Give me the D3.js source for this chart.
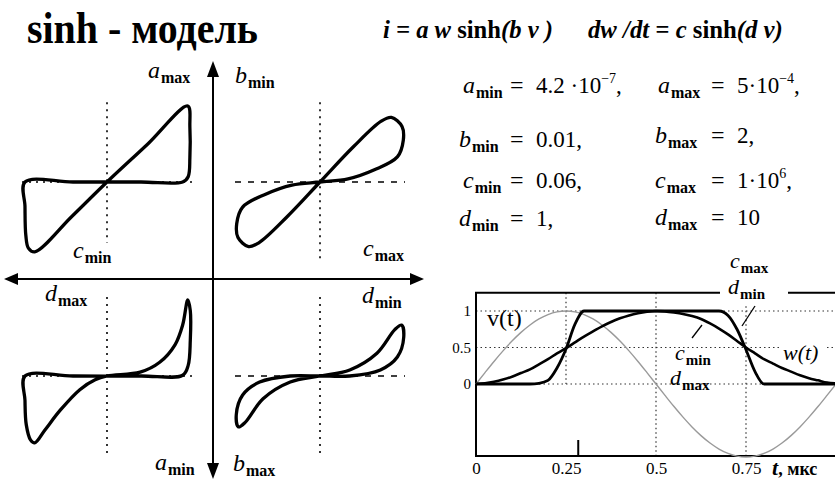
<!DOCTYPE html>
<html>
<head>
<meta charset="utf-8">
<script src="https://cdn.jsdelivr.net/npm/d3@7"></script>
<style>
  body { margin: 0; background: #fff; }
  svg { display: block; }
  text { fill: #000; }
</style>
</head>
<body>
<svg id="chart" width="835" height="480"></svg>
<script>
const SERIF = "'Liberation Serif', 'Times New Roman', Times, serif";
// ---------- text content ----------
const titleText = "sinh - модель";
const paramLetters = ["a", "b", "c", "d"];
const paramMinValue = ["4.2 ·10", "0.01,", "0.06,", "1,"];
const paramMinExp = ["−7", "", "", ""];
const paramMinTail = [",", "", "", ""];
const paramMaxValue = ["5·10", "2,", "1·10", "10"];
const paramMaxExp = ["−4", "", "6", ""];
const paramMaxTail = [",", "", ",", ""];

// ---------- hysteresis loops (v, i), normalised to [-1, 1] ----------
const loopAmaxBmin = [ // upper-left: a_max, c_min
  [-0.85,-0.92],[-0.42,-0.46],[0,0],[0.48,0.5],[0.95,1.0],[0.975,0.72],[0.975,0.32],
  [0.955,0.07],[0.89,0.0],[0.4,0],[-0.4,0],[-0.965,0],[-0.965,-0.32],[-0.955,-0.7],[-0.925,-0.87]
];
const loopBminCmax = [ // upper-right: b_min, c_max
  [0,0],[0.39,0.46],[0.72,0.8],[0.84,0.85],[0.965,0.73],[0.98,0.55],[0.91,0.33],[0.64,0.16],[0.33,0.04],
  [0,0],[-0.33,-0.04],[-0.64,-0.16],[-0.91,-0.33],[-0.98,-0.55],[-0.965,-0.73],[-0.84,-0.85],[-0.72,-0.8],[-0.39,-0.46]
];
const loopAminDmax = [ // lower-left: a_min, d_max
  [0,0],[0.39,0.05],[0.62,0.18],[0.8,0.41],[0.89,0.67],[0.95,1.0],[0.98,0.86],[0.98,0.47],
  [0.955,0.14],[0.89,0.01],[0.4,0],[-0.4,0],[-0.965,0],[-0.965,-0.32],[-0.95,-0.64],[-0.9,-0.84],
  [-0.85,-0.88],[-0.73,-0.71],[-0.55,-0.45],[-0.32,-0.18],[-0.14,-0.05]
];
const loopBmaxDmin = [ // lower-right: b_max, d_min
  [0,0],[0.35,0.08],[0.67,0.3],[0.88,0.61],[0.96,0.67],[0.985,0.51],[0.91,0.25],[0.71,0.08],[0.35,0.0],
  [0,0],[-0.35,0.0],[-0.71,-0.08],[-0.91,-0.25],[-0.985,-0.51],[-0.96,-0.67],[-0.88,-0.61],[-0.67,-0.3],[-0.35,-0.08]
];

// ---------- time responses ----------
const tValues = [0,0.025,0.05,0.075,0.1,0.125,0.15,0.175,0.2,0.225,0.25,0.275,0.3,0.325,0.35,0.375,0.4,0.425,0.45,0.475,
  0.5,0.525,0.55,0.575,0.6,0.625,0.65,0.675,0.7,0.725,0.75,0.775,0.8,0.825,0.85,0.875,0.9,0.925,0.95,0.975,1];
const vValues = [0,0.156,0.309,0.454,0.588,0.707,0.809,0.891,0.951,0.988,1,0.988,0.951,0.891,0.809,0.707,0.588,0.454,0.309,0.156,
  0,-0.156,-0.309,-0.454,-0.588,-0.707,-0.809,-0.891,-0.951,-0.988,-1,-0.988,-0.951,-0.891,-0.809,-0.707,-0.588,-0.454,-0.309,-0.156,0];
const wSmooth = [0,0.01,0.03,0.06,0.1,0.15,0.2,0.27,0.34,0.42,0.49,0.57,0.65,0.72,0.79,0.85,0.9,0.94,0.97,0.99,
  1,0.995,0.98,0.96,0.93,0.89,0.83,0.76,0.68,0.59,0.5,0.42,0.34,0.28,0.22,0.17,0.12,0.08,0.05,0.02,0.01];
const wSharp = [0,0,0,0,0,0,0,0.01,0.05,0.22,0.48,0.82,1,1,1,1,1,1,1,1,
  1,1,1,1,1,1,1,1,0.94,0.75,0.47,0.17,0,0,0,0,0,0,0,0,0];
const yTicks = [0, 0.5, 1];
const xTicks = [0, 0.25, 0.5, 0.75];
const tMarker = 0.284;

// ---------- drawing ----------
const svg = d3.select("#chart");
svg.append("rect").attr("width", 835).attr("height", 480).attr("fill", "#fff");
function txt() { return svg.append("text").attr("font-family", SERIF); }

// squeeze a text element horizontally to a target width
function fitText(sel, x, y, width) {
  const w = sel.node().getComputedTextLength();
  sel.attr("x", 0).attr("y", 0)
     .attr("transform", `translate(${x},${y}) scale(${width / w},1)`);
}

// title
const title = txt().attr("font-size", 45).attr("font-weight", "bold").text(titleText);
fitText(title, 27, 43, 231);

// model equations
const eq1 = txt().attr("font-size", 25).attr("font-weight", "bold");
eq1.append("tspan").attr("font-style", "italic").text("i = a w ");
eq1.append("tspan").text("sinh");
eq1.append("tspan").attr("font-style", "italic").text("(b v )");
fitText(eq1, 383, 38, 170);
const eq2 = txt().attr("font-size", 25).attr("font-weight", "bold");
eq2.append("tspan").attr("font-style", "italic").text("dw /dt = c ");
eq2.append("tspan").text("sinh");
eq2.append("tspan").attr("font-style", "italic").text("(d v)");
fitText(eq2, 588, 38, 195);

// letter with bold subscript
function mathLabel(x, y, letter, sub, size = 24, subSize = 16) {
  const t = txt().attr("x", x).attr("y", y);
  t.append("tspan").attr("font-style", "italic").attr("font-size", size).text(letter);
  t.append("tspan").attr("font-weight", "bold").attr("font-size", subSize).attr("dy", 5).attr("dx", 1).text(sub);
  return t;
}

// parameter table
const rowY1 = [93, 147, 188, 226];
const rowY2 = [93, 143, 188, 225];
function paramValue(x, y, val, exp, tail) {
  const t = txt().attr("x", x).attr("y", y).attr("font-size", 23);
  t.append("tspan").text(val);
  if (exp) t.append("tspan").attr("font-size", 14).attr("dy", -10).text(exp);
  if (tail) t.append("tspan").attr("dy", exp ? 10 : 0).text(tail);
}
paramLetters.forEach((L, k) => {
  mathLabel(k === 1 || k === 3 ? 459 : 463, rowY1[k], L, "min");
  txt().attr("x", 510).attr("y", rowY1[k]).attr("font-size", 24).text("=");
  paramValue(536, rowY1[k], paramMinValue[k], paramMinExp[k], paramMinTail[k]);
  mathLabel(k === 0 ? 658 : 655, rowY2[k], L, "max");
  txt().attr("x", 711).attr("y", rowY2[k]).attr("font-size", 24).text("=");
  paramValue(737, rowY2[k], paramMaxValue[k], paramMaxExp[k], paramMaxTail[k]);
});

// ---------- four hysteresis quadrants ----------
const quadrants = [
  { cx: 107, cy: 182, loop: loopAmaxBmin, hDash: "2,5", vTop: 1.05, vBot: -0.8 },
  { cx: 320, cy: 182, loop: loopBminCmax, hDash: "6,7", vTop: 1.05, vBot: -1.03 },
  { cx: 107, cy: 376, loop: loopAminDmax, hDash: "2,5", vTop: 1.04, vBot: -1.04 },
  { cx: 320, cy: 376, loop: loopBmaxDmin, hDash: "6,7", vTop: 1.04, vBot: -1.04 }
];
quadrants.forEach(q => {
  const x = d3.scaleLinear().domain([-1, 1]).range([q.cx - 85, q.cx + 85]);
  const y = d3.scaleLinear().domain([-1, 1]).range([q.cy + 76, q.cy - 76]);
  const g = svg.append("g");
  g.append("line").attr("x1", x(0)).attr("x2", x(0)).attr("y1", y(q.vTop)).attr("y2", y(q.vBot))
    .attr("stroke", "#000").attr("stroke-width", 1.6).attr("stroke-dasharray", "2,5");
  g.append("line").attr("x1", x(-1)).attr("x2", x(1)).attr("y1", y(0)).attr("y2", y(0))
    .attr("stroke", "#000").attr("stroke-width", 1.5).attr("stroke-dasharray", q.hDash);
  const line = d3.line().x(d => x(d[0])).y(d => y(d[1])).curve(d3.curveCatmullRomClosed.alpha(0.5));
  g.append("path").attr("d", line(q.loop)).attr("fill", "none").attr("stroke", "#000")
    .attr("stroke-width", 3.3).attr("stroke-linejoin", "round");
});

// main axes with arrowheads
svg.append("line").attr("x1", 12).attr("x2", 416).attr("y1", 279).attr("y2", 279)
  .attr("stroke", "#000").attr("stroke-width", 2);
svg.append("line").attr("x1", 213).attr("x2", 213).attr("y1", 70).attr("y2", 470)
  .attr("stroke", "#000").attr("stroke-width", 2);
const arrows = [
  [[4, 279], [18, 273], [18, 285]],
  [[424, 279], [410, 273], [410, 285]],
  [[213, 61], [207, 77], [219, 77]],
  [[213, 479], [207, 463], [219, 463]]
];
arrows.forEach(a => svg.append("path").attr("d", "M" + a.join("L") + "Z").attr("fill", "#000"));

// quadrant labels
mathLabel(148, 78, "a", "max");
mathLabel(235, 83, "b", "min");
mathLabel(73, 258, "c", "min");
mathLabel(363, 256, "c", "max");
mathLabel(45, 301, "d", "max");
mathLabel(362, 303, "d", "min");
mathLabel(155, 470, "a", "min");
mathLabel(233, 471, "b", "max");

// ---------- time-response panel ----------
const xT = d3.scaleLinear().domain([0, 1]).range([476, 836]);
const yW = d3.scaleLinear().domain([-1, 1]).range([457, 311]);
const panel = svg.append("g");
const frameTop = yW(1.25), frameBottom = 456;

// grid
yTicks.forEach(v => panel.append("line").attr("x1", xT(0)).attr("x2", 835).attr("y1", yW(v)).attr("y2", yW(v))
  .attr("stroke", "#333").attr("stroke-width", 1.2).attr("stroke-dasharray", "1.5,3"));
[[0.25, 0], [0.5, -1], [0.75, -1]].forEach(([tv, lo]) => panel.append("line")
  .attr("x1", xT(tv)).attr("x2", xT(tv)).attr("y1", frameTop).attr("y2", lo === 0 ? yW(0) : frameBottom)
  .attr("stroke", "#333").attr("stroke-width", 1.2).attr("stroke-dasharray", "1.5,3"));

// frame
panel.append("path").attr("d", `M835,${frameTop}H${xT(0)}V${frameBottom}H835`)
  .attr("fill", "none").attr("stroke", "#000").attr("stroke-width", 2);
panel.append("line").attr("x1", xT(tMarker)).attr("x2", xT(tMarker)).attr("y1", 440).attr("y2", frameBottom)
  .attr("stroke", "#000").attr("stroke-width", 2);

// curves
const pts = (vals) => tValues.map((tv, k) => [tv, vals[k]]);
const curve = d3.line().x(d => xT(d[0])).y(d => yW(d[1])).curve(d3.curveMonotoneX);
panel.append("path").attr("d", curve(pts(vValues))).attr("fill", "none").attr("stroke", "#9a9a9a").attr("stroke-width", 1.4);
panel.append("path").attr("d", curve(pts(wSmooth))).attr("fill", "none").attr("stroke", "#000").attr("stroke-width", 2.6);
panel.append("path").attr("d", curve(pts(wSharp))).attr("fill", "none").attr("stroke", "#000").attr("stroke-width", 2.8);

// axes
const yAxis = panel.append("g").attr("transform", `translate(${xT(0)},0)`)
  .call(d3.axisLeft(yW).tickValues(yTicks).tickSize(0).tickPadding(5).tickFormat(d3.format("")));
yAxis.select(".domain").remove();
yAxis.attr("font-family", SERIF).attr("font-size", 15);
const xAxis = panel.append("g").attr("transform", `translate(0,${frameBottom})`)
  .call(d3.axisBottom(xT).tickValues(xTicks).tickSize(0).tickPadding(6).tickFormat(d3.format("")));
xAxis.select(".domain").remove();
xAxis.attr("font-family", SERIF).attr("font-size", 17);

const tLabel = txt().attr("x", 772).attr("y", 475).attr("font-weight", "bold");
tLabel.append("tspan").attr("font-style", "italic").attr("font-size", 22).text("t");
tLabel.append("tspan").attr("font-size", 18).text(", мкс");

// curve labels
txt().attr("x", 487).attr("y", 326).attr("font-size", 24).text("v(t)");
svg.append("rect").attr("x", 720).attr("y", 282).attr("width", 68).attr("height", 22).attr("fill", "#fff");
mathLabel(730, 268, "c", "max", 22, 15);
mathLabel(728, 294, "d", "min", 22, 15);
svg.append("line").attr("x1", 755).attr("y1", 306).attr("x2", 742).attr("y2", 326).attr("stroke", "#000").attr("stroke-width", 1.3);
mathLabel(675, 360, "c", "min", 22, 15);
mathLabel(670, 385, "d", "max", 22, 15);
svg.append("line").attr("x1", 702).attr("y1", 325).attr("x2", 692).attr("y2", 338).attr("stroke", "#000").attr("stroke-width", 1.3);
svg.append("rect").attr("x", 781).attr("y", 342).attr("width", 44).attr("height", 22).attr("fill", "#fff");
txt().attr("x", 783).attr("y", 360).attr("font-size", 22).attr("font-style", "italic").text("w(t)");
</script>
</body>
</html>
